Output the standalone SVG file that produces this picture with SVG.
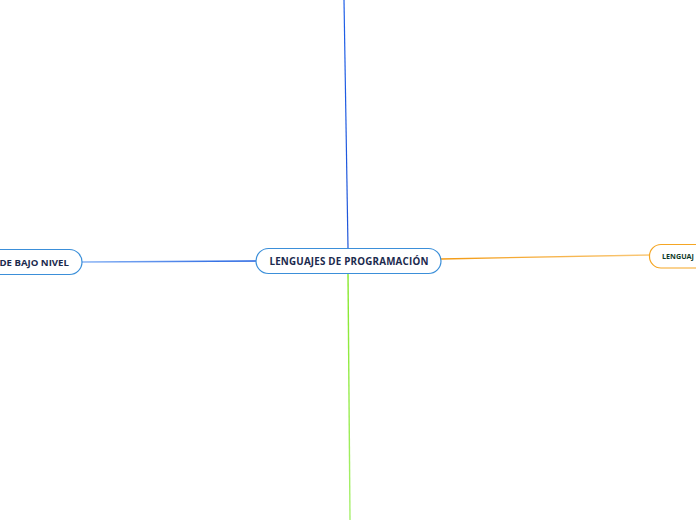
<svg xmlns="http://www.w3.org/2000/svg" width="696" height="520" viewBox="0 0 696 520">
<defs>
<linearGradient id="gl" x1="0" y1="0" x2="1" y2="0"><stop offset="0" stop-color="#8ab4f5"/><stop offset="1" stop-color="#1f5fe0"/></linearGradient>
<linearGradient id="gr" x1="0" y1="0" x2="1" y2="0"><stop offset="0" stop-color="#f39a12"/><stop offset="1" stop-color="#f9c878"/></linearGradient>
<linearGradient id="gt" x1="0" y1="0" x2="0" y2="1"><stop offset="0" stop-color="#1f5fe8"/><stop offset="1" stop-color="#1f55d8"/></linearGradient>
<linearGradient id="gb" x1="0" y1="0" x2="0" y2="1"><stop offset="0" stop-color="#86e82a"/><stop offset="1" stop-color="#a8f070"/></linearGradient>
</defs>
<style>
.node{fill:#ffffff;stroke-width:1.2}
.blue{stroke:#3b8fd9}
.orange{stroke:#f5a623}
.t{font-family:"Open Sans","Liberation Sans",sans-serif;font-weight:bold;fill:#1b2a4e}
.c{fill:none}
</style>
<rect width="696" height="520" fill="#ffffff"/>
<g id="connectors">
<line class="c" x1="344" y1="0" x2="348" y2="248" stroke="url(#gt)" stroke-width="1.2"/>
<line class="c" x1="82" y1="262" x2="256" y2="261" stroke="url(#gl)" stroke-width="1.3"/>
<line class="c" x1="441" y1="259" x2="650" y2="255" stroke="url(#gr)" stroke-width="1.3"/>
<path class="c" d="M348,273 L350,520" stroke="url(#gb)" stroke-width="1.4"/>
</g>
<g id="node-central">
<rect class="node blue" x="256" y="248.5" width="185" height="25" rx="12.5"/>
<text class="t" x="349" y="265" font-size="9.8" letter-spacing="0.2" text-anchor="middle">LENGUAJES DE PROGRAMACIÓN</text>
</g>
<g id="node-bajo">
<rect class="node blue" x="-40" y="249.5" width="122" height="25" rx="12.5"/>
<text class="t" x="-0.5" y="265.5" font-size="9.6">DE BAJO NIVEL</text>
</g>
<g id="node-alto">
<rect class="node orange" x="649.5" y="244.5" width="80" height="23.5" rx="11.5"/>
<text class="t" x="662" y="259" font-size="7.2" style="fill:#0f3b2a">LENGUAJ</text>
</g>
</svg>
